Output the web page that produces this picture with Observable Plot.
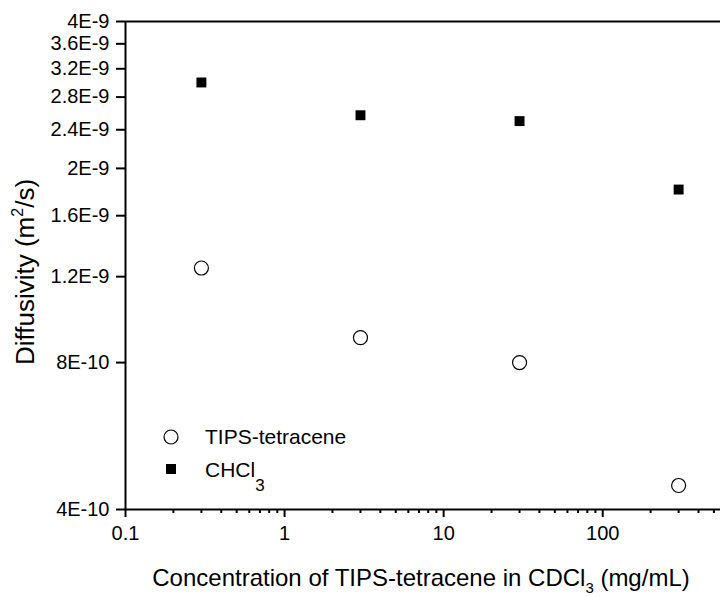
<!DOCTYPE html>
<html><head><meta charset="utf-8">
<script src="https://cdn.jsdelivr.net/npm/d3@7"></script>
<script src="https://cdn.jsdelivr.net/npm/@observablehq/plot@0.6"></script>
<style>html,body{margin:0;padding:0;background:#fff}#chart{width:720px;height:596px}</style>
</head><body><div id="chart"></div>
<script>
// Data
const concentrations = [0.3, 3, 30, 300];
const tipsDiffusivity = [1.25e-9, 9.0e-10, 8.0e-10, 4.48e-10];
const chcl3Diffusivity = [3.0e-9, 2.57e-9, 2.5e-9, 1.81e-9];

// Scales and ticks
const xDomain = [0.1, 550];
const yDomain = [4e-10, 4e-9];
const xMajorTicks = [0.1, 1, 10, 100];
const xMajorLabels = ["0.1", "1", "10", "100"];
const xMinorTicks = [0.2, 0.3, 0.4, 0.5, 0.6, 0.7, 0.8, 0.9,
                     2, 3, 4, 5, 6, 7, 8, 9,
                     20, 30, 40, 50, 60, 70, 80, 90,
                     200, 300, 400, 500];
const yTicks = [4e-10, 8e-10, 1.2e-9, 1.6e-9, 2e-9, 2.4e-9, 2.8e-9, 3.2e-9, 3.6e-9, 4e-9];
const yTickLabels = ["4E-10", "8E-10", "1.2E-9", "1.6E-9", "2E-9", "2.4E-9", "2.8E-9", "3.2E-9", "3.6E-9", "4E-9"];

const tips = concentrations.map((c, i) => ({c, d: tipsDiffusivity[i]}));
const chcl3 = concentrations.map((c, i) => ({c, d: chcl3Diffusivity[i]}));

const FONT = "'Liberation Sans', Arial, Helvetica, sans-serif";

const plot = Plot.plot({
  width: 720,
  height: 596,
  marginLeft: 125,
  marginRight: 0,
  marginTop: 21,
  marginBottom: 87,
  style: {fontFamily: FONT, fontSize: "20px", color: "black", background: "white"},
  x: {type: "log", domain: xDomain},
  y: {type: "log", domain: yDomain},
  marks: [
    Plot.axisY({ticks: yTicks, tickFormat: d => yTickLabels[yTicks.indexOf(d)], tickSize: 9, tickPadding: 7, strokeWidth: 2, label: null, fontSize: 20}),
    Plot.axisX({ticks: xMinorTicks, tickFormat: () => "", tickSize: 4, strokeWidth: 2, label: null}),
    Plot.axisX({ticks: xMajorTicks, tickFormat: d => xMajorLabels[xMajorTicks.indexOf(d)], tickSize: 8, tickPadding: 8, strokeWidth: 2, label: null, fontSize: 20}),
    Plot.ruleX([xDomain[0]], {strokeWidth: 2}),
    Plot.ruleY([yDomain[0], yDomain[1]], {strokeWidth: 2}),
    Plot.dot(tips, {x: "c", y: "d", r: 7, stroke: "black", fill: "white", strokeWidth: 1.2}),
    Plot.dot(chcl3, {x: "c", y: "d", symbol: "square", r: 5.6, fill: "black", stroke: "none"})
  ]
});

document.getElementById("chart").appendChild(plot);

const svg = d3.select(plot);

// Y-axis title with superscript
const yt = svg.append("text")
  .attr("transform", "translate(34,272) rotate(-90)")
  .attr("text-anchor", "middle")
  .attr("font-family", FONT)
  .attr("font-size", 26)
  .attr("fill", "black");
yt.append("tspan").text("Diffusivity (m");
yt.append("tspan").attr("font-size", 16).attr("dy", -11).text("2");
yt.append("tspan").attr("dy", 11).text("/s)");

// X-axis title with subscript
const xt = svg.append("text")
  .attr("x", 421).attr("y", 586)
  .attr("text-anchor", "middle")
  .attr("font-family", FONT)
  .attr("font-size", 24)
  .attr("fill", "black");
xt.append("tspan").text("Concentration of TIPS-tetracene in CDCl");
xt.append("tspan").attr("font-size", 15).attr("dy", 7).text("3");
xt.append("tspan").attr("dy", -7).text(" (mg/mL)");

// Legend
const lg = svg.append("g").attr("font-family", FONT).attr("font-size", 21).attr("fill", "black").attr("text-anchor", "start");
lg.append("circle").attr("cx", 171).attr("cy", 437).attr("r", 7).attr("fill", "white").attr("stroke", "black").attr("stroke-width", 1.2);
lg.append("rect").attr("x", 166).attr("y", 464).attr("width", 10).attr("height", 10).attr("fill", "black");
lg.append("text").attr("x", 205).attr("y", 444).attr("text-anchor", "start").text("TIPS-tetracene");
const l2 = lg.append("text").attr("x", 205).attr("y", 477).attr("text-anchor", "start");
l2.append("tspan").text("CHCl");
l2.append("tspan").attr("font-size", 17).attr("dy", 14).text("3");
</script>
</body></html>
